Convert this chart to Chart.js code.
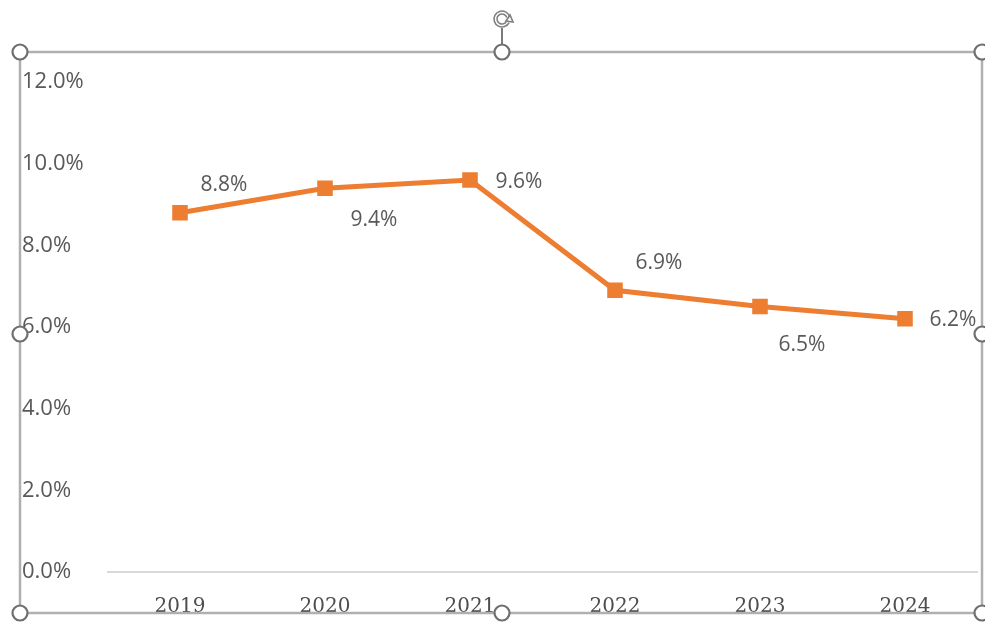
<!DOCTYPE html>
<html>
<head>
<meta charset="utf-8">
<script src="https://cdn.jsdelivr.net/npm/chart.js@4/dist/chart.umd.min.js"></script>
<style>
  html, body { margin: 0; padding: 0; background: #ffffff; }
  #wrap { position: relative; width: 985px; height: 625px; }
</style>
</head>
<body>
<div id="wrap"><canvas id="c" width="985" height="625"></canvas></div>
<script>
// ---- data ----
const years = ['2019', '2020', '2021', '2022', '2023', '2024'];
const rates = [8.8, 9.4, 9.6, 6.9, 6.5, 6.2];
const yTicks = [0, 2, 4, 6, 8, 10, 12];

// label offsets (style) relative to each point, in px
const labelOffsets = [[44, -28], [49, 32], [49, 2], [44, -27], [42, 38], [48, 1]];

const dataLabels = {
  id: 'dataLabels',
  afterDatasetsDraw(chart) {
    const ctx = chart.ctx;
    const meta = chart.getDatasetMeta(0);
    ctx.save();
    ctx.font = '21px "Open Sans"';
    ctx.fillStyle = '#595959';
    ctx.textAlign = 'center';
    ctx.textBaseline = 'middle';
    meta.data.forEach((pt, i) => {
      const o = labelOffsets[i];
      ctx.fillText(rates[i].toFixed(1) + '%', pt.x + o[0], pt.y + o[1]);
    });
    ctx.restore();
  }
};

const selectionFrame = {
  id: 'selectionFrame',
  afterDraw(chart) {
    const ctx = chart.ctx;
    const L = 20, R = 982, T = 52, B = 613, M = 502, MY = 334;
    ctx.save();
    ctx.strokeStyle = '#b0b0b0';
    ctx.lineWidth = 2.5;
    ctx.strokeRect(L, T, R - L, B - T);
    // rotate stem
    ctx.strokeStyle = '#7a7a7a';
    ctx.lineWidth = 2;
    ctx.beginPath(); ctx.moveTo(M, 28); ctx.lineTo(M, 45); ctx.stroke();
    // handles
    const hs = [[L, T], [M, T], [R, T], [L, MY], [R, MY], [L, B], [M, B], [R, B]];
    hs.forEach(h => {
      ctx.beginPath();
      ctx.arc(h[0], h[1], 7.5, 0, Math.PI * 2);
      ctx.fillStyle = '#ffffff';
      ctx.fill();
      ctx.lineWidth = 2.2;
      ctx.strokeStyle = '#6e6e6e';
      ctx.stroke();
    });
    // rotation icon
    ctx.strokeStyle = '#7f7f7f';
    ctx.lineWidth = 1.6;
    [8, 5].forEach(r => {
      ctx.beginPath();
      ctx.arc(M, 19, r, Math.PI * 0.15, Math.PI * 1.9);
      ctx.stroke();
    });
    ctx.beginPath();
    ctx.moveTo(M + 4, 21); ctx.lineTo(M + 11, 22); ctx.lineTo(M + 8, 15);
    ctx.closePath();
    ctx.stroke();
    ctx.restore();
  }
};

new Chart(document.getElementById('c'), {
  type: 'line',
  data: {
    labels: years,
    datasets: [{
      data: rates,
      borderColor: '#ED7D31',
      backgroundColor: '#ED7D31',
      borderWidth: 5,
      pointStyle: 'rect',
      pointRadius: 11,
      pointBorderWidth: 0,
      pointBackgroundColor: '#ED7D31',
      tension: 0,
      fill: false
    }]
  },
  options: {
    responsive: false,
    animation: false,
    devicePixelRatio: 1,
    layout: { autoPadding: false, padding: { left: 22, right: 7.5, top: 82, bottom: 0 } },
    plugins: { legend: { display: false }, tooltip: { enabled: false } },
    scales: {
      x: {
        offset: true,
        grid: { display: false, drawTicks: false },
        border: { display: true, color: '#d9d9d9', width: 2 },
        ticks: {
          color: '#4d4d4d',
          font: { family: '"DejaVu Serif"', size: 20 },
          padding: 23,
          maxRotation: 0
        },
        afterFit(s) { s.height = 53; s.paddingLeft = 0; s.paddingRight = 0; }
      },
      y: {
        min: 0, max: 12,
        afterBuildTicks(s) { s.ticks = yTicks.map(v => ({ value: v })); },
        grid: { display: false, drawTicks: false },
        border: { display: false },
        ticks: {
          crossAlign: 'far',
          color: '#595959',
          font: { family: '"Open Sans"', size: 22 },
          callback: v => v.toFixed(1) + '%'
        },
        afterFit(s) { s.width = 85.5; s.paddingTop = 0; s.paddingBottom = 0; }
      }
    }
  },
  plugins: [dataLabels, selectionFrame]
});
</script>
</body>
</html>
